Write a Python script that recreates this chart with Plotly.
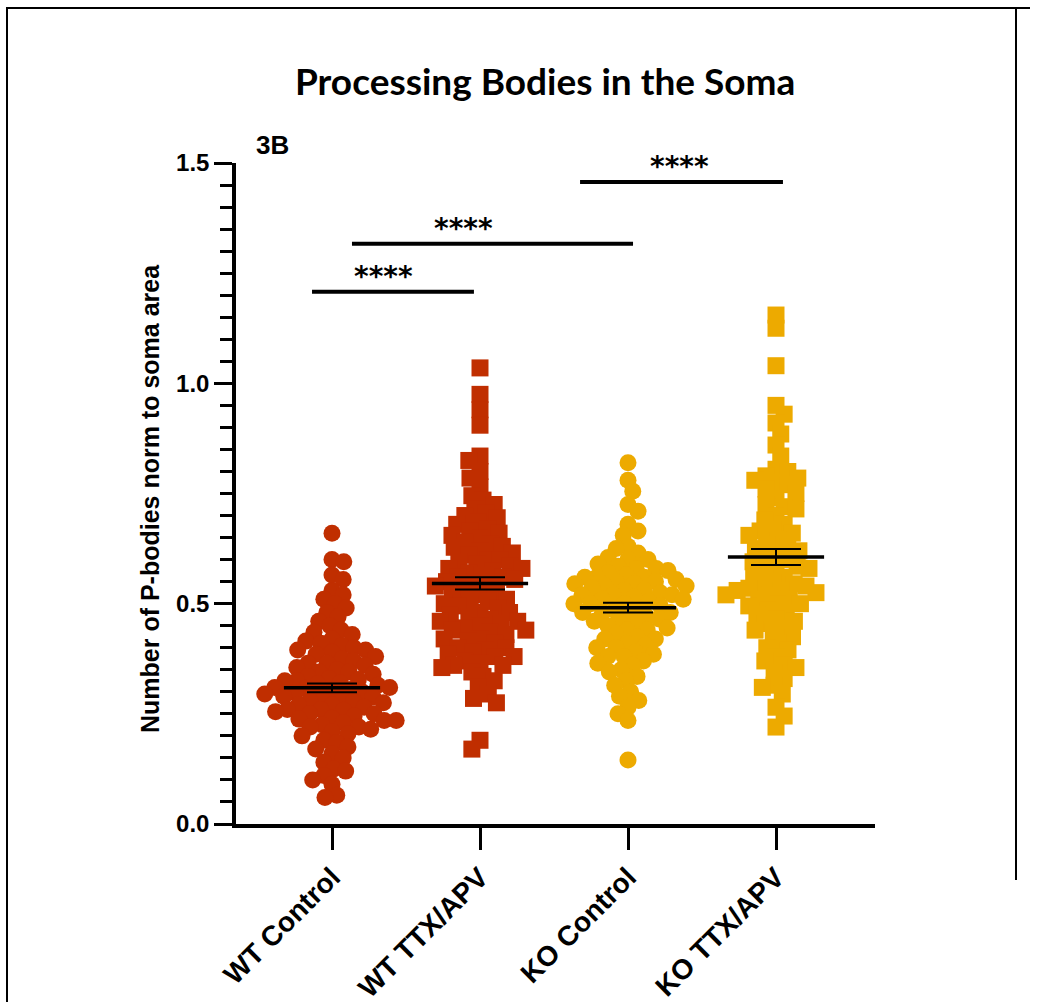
import numpy as np
import plotly.graph_objects as go

# ---------------- data ----------------
categories = ["WT Control", "WT TTX/APV", "KO Control", "KO TTX/APV"]

wt_control = [0.66, 0.60, 0.595, 0.565, 0.555, 0.53, 0.52, 0.51, 0.50, 0.49, 0.48, 0.47, 0.46,
              0.45, 0.44,
              0.435, 0.43, 0.42, 0.415, 0.41, 0.405, 0.40, 0.395, 0.395, 0.39,
              0.385, 0.38, 0.375, 0.37, 0.365, 0.365, 0.36, 0.355, 0.35, 0.345, 0.345, 0.34, 0.335,
              0.33, 0.328, 0.325, 0.325, 0.32, 0.318, 0.315, 0.31, 0.31, 0.308, 0.305, 0.30, 0.30,
              0.298, 0.295, 0.29, 0.29, 0.288, 0.285, 0.28,
              0.278, 0.275, 0.27, 0.27, 0.265, 0.26, 0.26, 0.258, 0.255, 0.25, 0.25, 0.245, 0.24,
              0.238, 0.235, 0.235, 0.23, 0.225, 0.22, 0.22, 0.215, 0.21, 0.205,
              0.20, 0.19, 0.185, 0.175, 0.17, 0.16,
              0.15, 0.14, 0.125, 0.12, 0.11, 0.10, 0.09, 0.065, 0.06]

wt_ttx = [1.035, 0.975, 0.94, 0.905, 0.835, 0.825, 0.80, 0.785, 0.765,
          0.745, 0.735, 0.725, 0.715, 0.705, 0.70,
          0.695, 0.685, 0.68, 0.67, 0.665, 0.66, 0.655,
          0.648, 0.64, 0.635, 0.63, 0.628, 0.62, 0.615, 0.61,
          0.60, 0.60, 0.595, 0.59, 0.585, 0.58, 0.58, 0.575, 0.57, 0.565, 0.56, 0.56, 0.555, 0.55,
          0.545, 0.54, 0.54, 0.53, 0.525, 0.52, 0.52, 0.51, 0.505,
          0.50, 0.50, 0.495, 0.49, 0.48, 0.48, 0.475, 0.47, 0.465, 0.46, 0.46, 0.455, 0.45,
          0.445, 0.44, 0.44, 0.435, 0.43, 0.42, 0.42, 0.415, 0.41, 0.40, 0.40,
          0.395, 0.39, 0.385, 0.38, 0.38, 0.37, 0.365, 0.36, 0.36, 0.355,
          0.345, 0.335, 0.325, 0.31, 0.295, 0.285, 0.275, 0.19, 0.17]

ko_control = [0.82, 0.78, 0.755, 0.725, 0.71, 0.68, 0.665, 0.655,
              0.63, 0.625, 0.615, 0.605, 0.60, 0.60,
              0.59, 0.585, 0.58, 0.58, 0.575, 0.57, 0.565, 0.56, 0.56, 0.56, 0.555, 0.55, 0.55,
              0.545, 0.545, 0.54, 0.54, 0.535, 0.53, 0.53, 0.525, 0.52, 0.52, 0.52, 0.515,
              0.51, 0.51, 0.505, 0.50, 0.50, 0.50,
              0.495, 0.49, 0.485, 0.48, 0.48, 0.48, 0.475, 0.47, 0.465, 0.46, 0.46, 0.455, 0.45,
              0.445, 0.44, 0.44, 0.43, 0.425, 0.42, 0.42, 0.41, 0.405, 0.40, 0.40, 0.39,
              0.385, 0.38, 0.38, 0.37, 0.365, 0.36, 0.35, 0.345, 0.335,
              0.325, 0.315, 0.30, 0.29, 0.28, 0.265, 0.25, 0.235, 0.145]

ko_ttx = [1.155, 1.125, 1.04, 0.95, 0.93, 0.91, 0.885, 0.86, 0.835,
          0.805, 0.80, 0.79, 0.785, 0.78, 0.775, 0.77,
          0.76, 0.75, 0.74, 0.725, 0.72, 0.715, 0.70, 0.69, 0.68, 0.67,
          0.665, 0.66, 0.655, 0.645, 0.635, 0.63,
          0.625, 0.62, 0.61, 0.60, 0.60, 0.595, 0.585,
          0.58, 0.58, 0.57, 0.56, 0.56, 0.55,
          0.545, 0.54, 0.54, 0.535, 0.53, 0.53, 0.525, 0.52, 0.52, 0.51, 0.51, 0.50, 0.50, 0.495,
          0.485, 0.48, 0.475, 0.465, 0.46, 0.455, 0.445, 0.44, 0.435,
          0.425, 0.41, 0.40, 0.395, 0.38, 0.37, 0.36, 0.355, 0.345, 0.33,
          0.315, 0.31, 0.295, 0.265, 0.245, 0.22]

group_values = [wt_control, wt_ttx, ko_control, ko_ttx]
means = [0.309, 0.546, 0.491, 0.606]
sems = [0.010, 0.014, 0.011, 0.018]

sig_pairs_x0 = [-0.135, 0.135, 1.676]
sig_pairs_x1 = [0.959, 2.034, 3.047]
sig_y = [1.208, 1.317, 1.457]
sig_star_x = [0.345, 0.89, 2.35]
sig_label = ["****", "****", "****"]

# ---------------- styling ----------------
W, H = 1038, 1002
L, R, T, B = 236, 875, 163, 824
X_RANGE = [(L - 332) / 148.0, (R - 332) / 148.0]
Y_RANGE = [0, 1.5]
PX_X = (R - L) / (X_RANGE[1] - X_RANGE[0])
PX_Y = (B - T) / (Y_RANGE[1] - Y_RANGE[0])

RED = "#C02E00"
YEL = "#EDAA00"
colors = [RED, RED, YEL, YEL]
symbols = ["circle", "square", "circle", "square"]
FONT = "Liberation Sans, Arial, sans-serif"


def beeswarm(vals, D):
    ys = np.asarray(vals, dtype=float) * PX_Y
    order = np.argsort(-ys, kind="stable")
    placed = []
    out = np.zeros(len(ys))
    for k, idx in enumerate(order):
        y = ys[idx]
        near = [(px, py) for px, py in placed if abs(py - y) < D]
        cands = [0.0]
        for px, py in near:
            dx = np.sqrt(max(D * D - (py - y) ** 2, 0.0))
            cands += [px + dx, px - dx]
        sgn = 1 if k % 2 == 0 else -1
        cands.sort(key=lambda c: (round(abs(c), 6), -sgn * c))
        for c in cands:
            if all((c - px) ** 2 + (y - py) ** 2 >= D * D - 1e-6 for px, py in near):
                out[idx] = c
                placed.append((c, y))
                break
    return out / PX_X


fig = go.Figure()

for i, vals in enumerate(group_values):
    offs = beeswarm(vals, 12.0)
    fig.add_trace(go.Scatter(
        x=i + offs, y=vals, mode="markers",
        marker=dict(symbol=symbols[i], size=17, color=colors[i], line=dict(width=0)),
        showlegend=False, hoverinfo="y"))

# mean lines
mx, my = [], []
for i, m in enumerate(means):
    mx += [i - 0.325, i + 0.325, None]
    my += [m, m, None]
fig.add_trace(go.Scatter(x=mx, y=my, mode="lines", line=dict(color="black", width=3.5),
                         showlegend=False, hoverinfo="skip"))
# SEM
fig.add_trace(go.Scatter(
    x=list(range(len(means))), y=means, mode="markers",
    marker=dict(size=1, color="rgba(0,0,0,0)"),
    error_y=dict(type="data", array=sems, visible=True, color="black", thickness=2, width=25),
    showlegend=False, hoverinfo="skip"))

# significance bars
for x0, x1, y in zip(sig_pairs_x0, sig_pairs_x1, sig_y):
    fig.add_shape(type="line", x0=x0, x1=x1, y0=y, y1=y, xref="x", yref="y",
                  line=dict(color="black", width=4))
for xs, y, lab in zip(sig_star_x, sig_y, sig_label):
    fig.add_annotation(x=xs, y=y, xref="x", yref="y", text=lab, showarrow=False,
                       yanchor="bottom", yshift=-3,
                       font=dict(family="DejaVu Sans", size=28, color="black", weight="bold"))


def px2paper(px, py):
    return (px - L) / (R - L), (B - py) / (B - T)

# title
tx, ty = px2paper(545, 81)
fig.add_annotation(x=tx, y=ty, xref="paper", yref="paper", text="Processing Bodies in the Soma",
                   showarrow=False, xanchor="center", yanchor="middle",
                   font=dict(family="Lato", size=37, color="black", weight="bold"))
# panel label
lx, ly = px2paper(254, 145)
fig.add_annotation(x=lx, y=ly, xref="paper", yref="paper", text="3B", showarrow=False,
                   xanchor="left", yanchor="middle",
                   font=dict(family=FONT, size=26, color="black", weight="bold"))
# y-axis title
ax_, ay_ = px2paper(150, 499)
fig.add_annotation(x=ax_, y=ay_, xref="paper", yref="paper",
                   text="Number of P-bodies norm to soma area", showarrow=False,
                   textangle=-90, xanchor="center", yanchor="middle",
                   font=dict(family=FONT, size=25, color="black", weight="bold"))

# frame
for (x0, y0, x1, y1) in [(6, 8, 1030, 8), (7, 8, 7, 1002), (1016, 8, 1016, 880)]:
    a0, b0 = px2paper(x0, y0)
    a1, b1 = px2paper(x1, y1)
    fig.add_shape(type="line", xref="paper", yref="paper", x0=a0, y0=b0, x1=a1, y1=b1,
                  line=dict(color="black", width=2))

fig.update_layout(
    width=W, height=H, autosize=False,
    margin=dict(l=L, r=W - R, t=T, b=H - B, pad=0, autoexpand=False),
    paper_bgcolor="white", plot_bgcolor="white",
    xaxis=dict(range=X_RANGE, tickmode="array", tickvals=list(range(len(categories))),
               ticktext=categories, tickangle=-45, showgrid=False, zeroline=False,
               automargin=False,
               showline=True, linecolor="black", linewidth=3.5, ticks="outside",
               ticklen=22, tickwidth=3, tickcolor="black",
               tickfont=dict(family=FONT, size=28, color="black", weight="bold")),
    yaxis=dict(range=Y_RANGE, tickmode="linear", tick0=0, dtick=0.5, tickformat=".1f",
               automargin=False,
               showgrid=False, zeroline=False, showline=True, linecolor="black", linewidth=3.5,
               ticks="outside", ticklen=18, tickwidth=3, tickcolor="black",
               minor=dict(dtick=0.05, ticklen=12, tickwidth=3, tickcolor="black", ticks="outside",
                          showgrid=False),
               tickfont=dict(family=FONT, size=24, color="black", weight="bold")),
)

fig.write_html("out.html", config={"displayModeBar": False},
               post_script="document.body.style.margin='0px';")
